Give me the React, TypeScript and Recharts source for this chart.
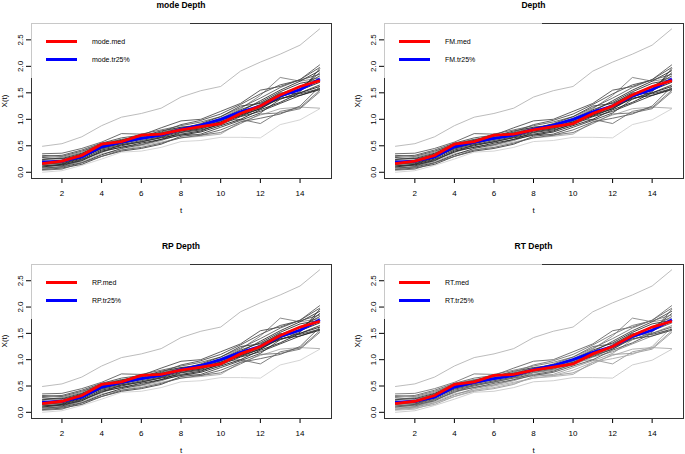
import { LineChart, Line, XAxis, YAxis } from "recharts";

// #region data
const tValues = [1, 2, 3, 4, 5, 6, 7, 8, 9, 10, 11, 12, 13, 14, 15];
const xTicks = [2, 4, 6, 8, 10, 12, 14];
const yTicks = [0, 0.5, 1, 1.5, 2, 2.5];

// sample curves X(t)
const curves: number[][] = [
    [0.49, 0.54, 0.67, 0.88, 1.04, 1.11, 1.21, 1.42, 1.54, 1.62, 1.91, 2.08, 2.23, 2.4, 2.71],
    [0.0, 0.03, 0.13, 0.25, 0.38, 0.4, 0.47, 0.58, 0.6, 0.66, 0.66, 0.65, 0.9, 0.99, 1.2],
    [0.1, 0.12, 0.2, 0.35, 0.42, 0.5, 0.57, 0.65, 0.68, 0.72, 0.95, 1.08, 1.2, 1.23, 1.21],
    [0.25, 0.28, 0.38, 0.55, 0.62, 0.68, 0.75, 0.85, 0.9, 1.02, 1.2, 1.45, 1.79, 1.72, 1.78],
    [0.15, 0.18, 0.28, 0.45, 0.55, 0.62, 0.7, 0.78, 0.82, 0.97, 1.0, 0.92, 1.15, 1.22, 1.55],
    [0.35, 0.36, 0.45, 0.57, 0.73, 0.72, 0.8, 0.88, 0.95, 1.05, 1.22, 1.4, 1.6, 1.75, 2.03],
    [0.3, 0.32, 0.42, 0.55, 0.65, 0.7, 0.84, 0.97, 1.0, 1.15, 1.3, 1.55, 1.62, 1.75, 1.98],
    [0.05, 0.08, 0.15, 0.3, 0.4, 0.45, 0.53, 0.68, 0.72, 0.85, 0.98, 1.12, 1.38, 1.5, 1.65],
    [0.08, 0.1, 0.18, 0.33, 0.45, 0.52, 0.62, 0.75, 0.8, 0.9, 1.05, 1.15, 1.3, 1.45, 1.58],
    [0.2, 0.22, 0.35, 0.5, 0.58, 0.68, 0.78, 0.85, 0.88, 1.0, 1.15, 1.35, 1.55, 1.72, 1.92],
    [0.12, 0.15, 0.25, 0.42, 0.5, 0.58, 0.65, 0.72, 0.78, 0.92, 1.08, 1.2, 1.42, 1.55, 1.7],
    [0.28, 0.25, 0.33, 0.48, 0.6, 0.72, 0.7, 0.82, 0.92, 1.05, 1.25, 1.3, 1.48, 1.62, 1.82],
    [0.06, 0.1, 0.22, 0.38, 0.48, 0.52, 0.6, 0.72, 0.7, 0.75, 0.92, 1.1, 1.12, 1.2, 1.52],
    [0.18, 0.2, 0.3, 0.47, 0.56, 0.64, 0.73, 0.8, 0.86, 0.98, 1.1, 1.22, 1.42, 1.58, 1.88],
    [0.22, 0.18, 0.28, 0.44, 0.52, 0.6, 0.67, 0.78, 0.85, 0.95, 1.12, 1.28, 1.5, 1.48, 1.58],
    [0.32, 0.3, 0.4, 0.52, 0.62, 0.66, 0.76, 0.9, 0.98, 1.1, 1.28, 1.48, 1.65, 1.74, 1.85],
    [0.1, 0.14, 0.22, 0.4, 0.47, 0.55, 0.62, 0.7, 0.76, 0.88, 1.0, 1.18, 1.32, 1.5, 1.62],
    [0.14, 0.12, 0.24, 0.38, 0.52, 0.57, 0.66, 0.76, 0.82, 0.93, 1.08, 1.25, 1.38, 1.52, 1.96],
    [0.04, 0.06, 0.18, 0.3, 0.42, 0.47, 0.55, 0.65, 0.7, 0.8, 0.95, 1.02, 1.1, 1.25, 1.62],
    [0.24, 0.26, 0.36, 0.53, 0.6, 0.7, 0.74, 0.83, 0.9, 1.0, 1.18, 1.32, 1.52, 1.68, 1.75],
    [0.16, 0.16, 0.27, 0.46, 0.54, 0.63, 0.69, 0.79, 0.84, 0.95, 1.06, 1.2, 1.4, 1.45, 1.56],
];

// depth-based median and 25% trimmed mean
const medValues = [0.165, 0.21, 0.32, 0.53, 0.58, 0.7, 0.72, 0.8, 0.86, 0.92, 1.11, 1.25, 1.46, 1.62, 1.73];
const trimValues = [0.19, 0.21, 0.29, 0.48, 0.57, 0.64, 0.7, 0.81, 0.89, 1.0, 1.14, 1.25, 1.44, 1.56, 1.76];
// #endregion

const rows = tValues.map((t, i) => {
    const row: Record<string, number> = { t, med: medValues[i], trim: trimValues[i] };
    curves.forEach((c, k) => (row["c" + k] = c[i]));
    return row;
});

// grey level of each curve (darker = deeper)
const darkShades = ["#b4b4b4", "#d0d0d0", "#a8a8a8", "#808080", "#707070", "#606060", "#505050", "#404040", "#333", "#303030", "#222", "#404040", "#707070", "#303030", "#404040", "#505050", "#222", "#333", "#606060", "#333", "#222"];
const lightShades = ["#b4b4b4", "#c8c8c8", "#aaa", "#888", "#999", "#777", "#666", "#999", "#888", "#444", "#555", "#666", "#999", "#555", "#444", "#777", "#555", "#666", "#aaa", "#333", "#444"];

const FONT = "'Liberation Sans', Arial, sans-serif";

type Panel = {
    title: string;
    med: string;
    trim: string;
    left: number;
    top: number;
    plotL: number;
    plotT: number;
    plotR: number;
    plotB: number;
    shades: string[];
};

const panels: Panel[] = [
    { title: "mode Depth", med: "mode.med", trim: "mode.tr25%", left: 0, top: 0, plotL: 31, plotT: 23, plotR: 331, plotB: 178, shades: darkShades },
    { title: "Depth", med: "FM.med", trim: "FM.tr25%", left: 342, top: 0, plotL: 384, plotT: 23, plotR: 683, plotB: 178, shades: darkShades },
    { title: "RP Depth", med: "RP.med", trim: "RP.tr25%", left: 0, top: 227, plotL: 31, plotT: 264, plotR: 331, plotB: 418, shades: darkShades },
    { title: "RT Depth", med: "RT.med", trim: "RT.tr25%", left: 342, top: 227, plotL: 384, plotT: 264, plotR: 683, plotB: 418, shades: lightShades },
];

const PANEL_W = 343;
const PANEL_H = 227;
const TICK_FONT = 8;

const makeYTick = (cx: number) => (props: any) => {
    const { y, payload } = props;
    return (
        <text
            x={cx}
            y={y}
            dy="0.35em"
            textAnchor="middle"
            fontSize={TICK_FONT}
            fontFamily={FONT}
            fill="#000"
            stroke="none"
            transform={`rotate(-90, ${cx}, ${y})`}
        >
            {Number(payload.value).toFixed(1)}
        </text>
    );
};

const makeXTick = (ty: number) => (props: any) => {
    const { x, payload } = props;
    return (
        <text x={x} y={ty} dy="0.35em" textAnchor="middle" fontSize={TICK_FONT} fontFamily={FONT} fill="#000" stroke="none">
            {payload.value}
        </text>
    );
};

const DepthPanel = ({ p }: { p: Panel }) => {
    const ml = p.plotL - p.left;
    const mt = p.plotT - p.top;
    const mr = p.left + PANEL_W - p.plotR;
    const mb = p.top + PANEL_H - p.plotB;
    const plotW = p.plotR - p.plotL;
    const plotH = p.plotB - p.plotT;
    const cx = (p.plotL + p.plotR) / 2;
    const cy = (p.plotT + p.plotB) / 2;
    const split = p.plotL + plotW * 0.53;
    const text = { position: "absolute" as const, fontFamily: FONT, color: "#000", whiteSpace: "nowrap" as const, lineHeight: 1 };
    return (
        <>
            <div style={{ position: "absolute", left: p.left, top: p.top }}>
                <LineChart width={PANEL_W} height={PANEL_H} data={rows} margin={{ top: mt, right: mr, bottom: 0, left: 0 }}>
                    <XAxis
                        dataKey="t"
                        type="number"
                        domain={[0.44, 15.56]}
                        ticks={xTicks}
                        allowDataOverflow
                        axisLine={false}
                        tickSize={5}
                        height={mb}
                        tickLine={{ stroke: "#000" }}
                        tick={makeXTick(p.plotB - p.top + 15)}
                    />
                    <YAxis
                        type="number"
                        domain={[-0.108, 2.818]}
                        ticks={yTicks}
                        allowDataOverflow
                        axisLine={false}
                        tickSize={5}
                        width={ml}
                        tickLine={{ stroke: "#000" }}
                        tick={makeYTick(ml - 11)}
                    />
                    {curves.map((_, k) => (
                        <Line
                            key={k}
                            dataKey={"c" + k}
                            stroke={p.shades[k]}
                            strokeWidth={0.9}
                            dot={false}
                            isAnimationActive={false}
                        />
                    ))}
                    <Line dataKey="trim" stroke="#0000ff" strokeWidth={2.8} dot={false} isAnimationActive={false} />
                    <Line dataKey="med" stroke="#ff0000" strokeWidth={2.8} dot={false} isAnimationActive={false} />
                </LineChart>
            </div>
            {/* plot box */}
            <div style={{ position: "absolute", left: p.plotL, top: p.plotT, width: split - p.plotL, height: 1, background: "#c8c8c8" }} />
            <div style={{ position: "absolute", left: split, top: p.plotT, width: p.plotR - split, height: 1, background: "#333" }} />
            <div style={{ position: "absolute", left: p.plotL, top: p.plotB, width: plotW + 1, height: 1, background: "#333" }} />
            <div style={{ position: "absolute", left: p.plotR, top: p.plotT, width: 1, height: plotH, background: "#333" }} />
            <div style={{ position: "absolute", left: p.plotL, top: p.plotT, width: 1, height: 55, background: "#c8c8c8" }} />
            <div style={{ position: "absolute", left: p.plotL, top: p.plotT + 55, width: 1, height: plotH - 55, background: "#333" }} />
            {/* title and axis labels */}
            <div style={{ ...text, left: cx, top: p.plotT - 18, transform: "translate(-50%, -50%)", fontSize: 8.5, fontWeight: "bold" }}>{p.title}</div>
            <div style={{ ...text, left: cx, top: p.plotB + 33, transform: "translate(-50%, -50%)", fontSize: 8 }}>t</div>
            <div style={{ ...text, left: p.plotL - 26, top: cy, transform: "translate(-50%, -50%) rotate(-90deg)", fontSize: 8 }}>X(t)</div>
            {/* legend */}
            <div style={{ position: "absolute", left: p.plotL + 15, top: p.plotT + 17, width: 31, height: 2.6, background: "#ff0000" }} />
            <div style={{ position: "absolute", left: p.plotL + 15, top: p.plotT + 35, width: 31, height: 2.6, background: "#0000ff" }} />
            <div style={{ ...text, left: p.plotL + 61, top: p.plotT + 18, transform: "translateY(-50%)", fontSize: 7 }}>{p.med}</div>
            <div style={{ ...text, left: p.plotL + 61, top: p.plotT + 36, transform: "translateY(-50%)", fontSize: 7 }}>{p.trim}</div>
        </>
    );
};

export default function App() {
    return (
        <div style={{ position: "absolute", left: 0, top: 0, width: 685, height: 454, background: "#fff", overflow: "hidden" }}>
            {panels.map((p) => (
                <DepthPanel key={p.title} p={p} />
            ))}
        </div>
    );
}
